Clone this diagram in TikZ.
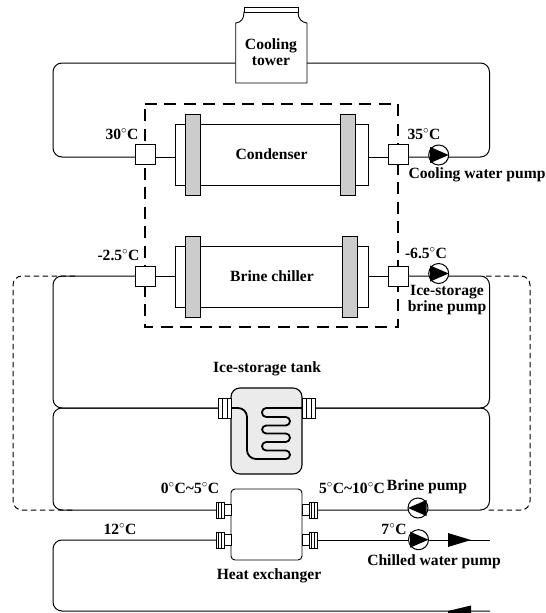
\documentclass[tikz,border=0pt]{standalone}
\usepackage{fontspec}
\setmainfont{Liberation Serif}
\newcommand{\dg}{\ensuremath{^{\circ}}}
\tikzset{
 x=1pt,y=-1pt,
 pipe/.style={line width=1pt,rounded corners=9pt},
 dashbox/.style={line width=2pt,dash pattern=on 12pt off 7.5pt},
 thindash/.style={line width=1pt,dash pattern=on 5.5pt off 3.5pt,rounded corners=9pt},
 part/.style={draw,line width=0.9pt,fill=white},
 flangebar/.style={draw,line width=1pt,fill=black!20},
 lab/.style={inner sep=0pt,font=\fontsize{15.6}{16.5}\selectfont\bfseries,align=center},
 portsq/.style={draw,line width=1pt,fill=white,minimum size=20pt,inner sep=0pt},
 pumpc/.style={draw,line width=1pt,fill=white,circle,minimum size=20pt,inner sep=0pt},
 coil/.style={line width=1.8pt,line join=round},
}
\newcommand{\pumptri}[3]{\fill (#1-#3*8.5,#2-8) -- (#1+#3*10,#2) -- (#1-#3*8.5,#2+8) -- cycle;}
\newcommand{\lugs}[3]{% x of outer edge, y, direction
  \draw[part] (#1+#3*0,#2-5.5) rectangle (#1+#3*8,#2+5.5);
  \draw[part] (#1+#3*7,#2-8) rectangle (#1+#3*15,#2+8);
  \draw[line width=0.45pt] (#1+#3*9.7,#2-8) -- (#1+#3*9.7,#2+8) (#1+#3*12.4,#2-8) -- (#1+#3*12.4,#2+8);}
\begin{document}
\begin{tikzpicture}
\useasboundingbox (0,0) rectangle (546,613);
% dashed boxes
\draw[dashbox] (144.5,104) -- (398,104) -- (398,327) -- (144.5,327) -- cycle;
\draw[thindash] (75,276) -- (13,276) -- (13,510) -- (75,510);
\draw[thindash] (486,276) -- (530,276) -- (530,510) -- (486,510);
% pipes
\coordinate (tl) at (235.5,63);
\coordinate (tr) at (307,63);
\draw[pipe] (tl) -- (53,63) -- (53,157) -- (135,157);
\draw[pipe] (tr) -- (489.5,63) -- (489.5,157) -- (408,157);
\draw[pipe] (155,157) -- (175,157);
\draw[pipe] (368,157) -- (388,157);
\draw[pipe] (135,276) -- (53,276) -- (53,408) -- (218,408);
\draw[pipe] (408,276) -- (489.5,276) -- (489.5,408) -- (315,408);
\draw[pipe] (218,408) -- (53,408) -- (53,510) -- (216,510);
\draw[pipe] (315,408) -- (489.5,408) -- (489.5,510) -- (317,510);
\draw[pipe] (155,276) -- (175,276);
\draw[pipe] (368,276) -- (388,276);
\draw[pipe] (216,540) -- (53,540) -- (53,611) -- (490,611);
\draw[line width=1pt] (317,540) -- (490,540);
\fill (448,533) -- (471,540) -- (448,547) -- cycle;
\fill (448,611) -- (471,605.5) -- (471,613) -- (448,613) -- cycle;
% cooling tower
\draw[part] (235.7,83) -- (235.7,23) .. controls (241,22.5) and (244,19) .. (244,12) -- (298,12) .. controls (298,19) and (302,22.5) .. (307,23) -- (307,83) -- cycle;
\draw[part] (244,12) -- (244,7.5) -- (298,7.5) -- (298,12) -- cycle;
\node[lab] (tower) at (271,52) {Cooling\\tower};
% condenser
\draw[part] (175,124) rectangle (368,185);
\draw[flangebar] (185,114) rectangle (200.5,195);
\draw[flangebar] (340,114) rectangle (355,195);
\node[lab] (cond) at (271.5,154) {Condenser};
\node[portsq] (s1) at (145,154.7) {};
\node[portsq] (s2) at (398,154.7) {};
% chiller
\draw[part] (175,246) rectangle (368,307);
\draw[flangebar] (185,236) rectangle (200.5,317);
\draw[flangebar] (342.5,236) rectangle (357.5,317);
\node[lab] (chil) at (272,276) {Brine chiller};
\node[portsq] (s3) at (145,276.3) {};
\node[portsq] (s4) at (398,276.3) {};
% pumps
\node[pumpc] (p1) at (438.7,155) {}; \pumptri{438.7}{155}{1}
\node[pumpc] (p2) at (438.7,273.5) {}; \pumptri{438.7}{273.5}{1}
\node[pumpc] (p3) at (418,508) {}; \pumptri{418}{508}{-1}
\node[pumpc] (p4) at (418.5,539.7) {}; \pumptri{418.5}{539.7}{1}
% tank
\draw[line width=1.1pt,fill=black!8,rounded corners=9pt] (231,388) rectangle (302,474);
\foreach \xa/\xb in {218/231,302/315}{
 \draw[part] (\xa,398) rectangle (\xb,418);
}
\draw[line width=0.45pt] (222,398) -- (222,418) (227,398) -- (227,418) (306,398) -- (306,418) (311,398) -- (311,418);
\draw[coil] (231,408) [rounded corners=9pt] -- (247,408) -- (247,459) [rounded corners=4.2pt] -- (290,459) -- (290,450.5) -- (262,450.5) -- (262,442) -- (290,442) -- (290,433.5) -- (262,433.5) -- (262,425.5) -- (290,425.5) -- (290,417) -- (262,417) -- (262,408) -- (302,408);
\node[lab] (tanklab) at (267,369) {Ice-storage tank};
% heat exchanger
\draw[part,rounded corners=4pt] (231,489) rectangle (302,560);
\lugs{231}{510}{-1}
\lugs{231}{540}{-1}
\lugs{302}{510}{1}
\lugs{302}{540}{1}
\node[lab] (hxlab) at (269,576) {Heat exchanger};
% labels
\node[lab] (t30) at (122,134) {30\dg C};
\node[lab] (t35) at (424,134) {35\dg C};
\node[lab] (t25) at (118.5,255) {-2.5\dg C};
\node[lab] (t65) at (426,253) {-6.5\dg C};
\node[lab] (cw) at (477,175) {Cooling water pump};
\node[lab] (isb) at (447,300) {Ice-storage\\brine pump};
\node[lab] (t05) at (190,488) {0\dg C\textasciitilde5\dg C};
\node[lab] (t510) at (352,488) {5\dg C\textasciitilde10\dg C};
\node[lab] (bp) at (427,487) {Brine pump};
\node[lab] (t12) at (120,529) {12\dg C};
\node[lab] (t7) at (394,529) {7\dg C};
\node[lab] (cwp) at (434,561.5) {Chilled water pump};
\end{tikzpicture}
\end{document}
